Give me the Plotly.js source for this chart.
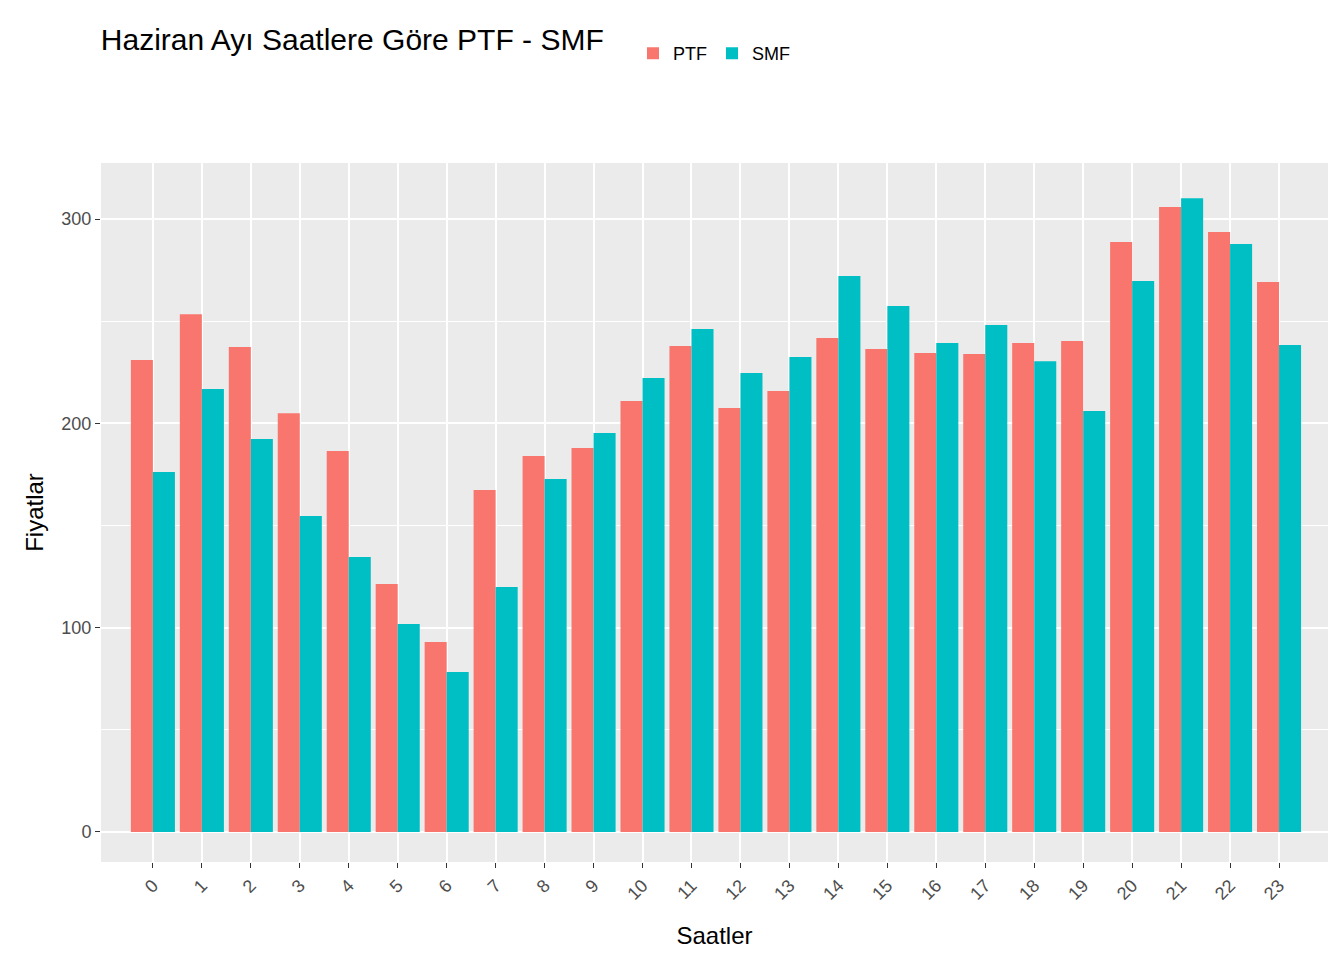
<!DOCTYPE html>
<html>
<head>
<meta charset="utf-8">
<script src="https://cdn.plot.ly/plotly-3.0.1.min.js"></script>
<style>body{margin:0}#chart{width:1344px;height:960px}</style>
</head>
<body>
<div id="chart"></div>
<script>
// data
const hours = [0,1,2,3,4,5,6,7,8,9,10,11,12,13,14,15,16,17,18,19,20,21,22,23];
const ptf = [231,253.5,237.4,205,186.5,121.4,93,167.4,184,188,211,237.9,207.5,215.9,241.8,236.4,234.5,234,239.4,240.3,288.8,305.9,293.7,269.2];
const smf = [176.2,216.8,192.4,154.7,134.6,101.8,78.3,119.9,172.8,195.3,222.2,246.2,224.7,232.5,272.2,257.5,239.4,248.2,230.5,206.1,269.7,310.3,287.8,238.4];

const font = "Liberation Sans, Arial, sans-serif";

const traces = [
	{ x: hours, y: ptf, name: "PTF", type: "bar", marker: { color: "#F8766D" } },
	{ x: hours, y: smf, name: "SMF", type: "bar", marker: { color: "#00BFC4" } },
];

const layout = {
	width: 1344,
	height: 960,
	margin: { l: 101, r: 16, t: 163, b: 98 },
	paper_bgcolor: "white",
	plot_bgcolor: "#EBEBEB",
	font: { family: font, size: 18, color: "#4D4D4D" },
	title: { text: "Haziran Ayı Saatlere Göre PTF - SMF", x: 0.075, xanchor: "left", y: 0.97, font: { size: 30, color: "black" } },
	barmode: "group",
	bargap: 0.1,
	bargroupgap: 0,
	showlegend: true,
	legend: { orientation: "h", x: 0.5, xanchor: "center", y: 1.13, yanchor: "bottom", font: { size: 18, color: "black" } },
	xaxis: {
		range: [-1.06, 24.0],
		tickmode: "array",
		tickvals: hours,
		ticktext: hours.map(String),
		tickangle: -45,
		ticks: "outside",
		ticklen: 5,
		tickcolor: "#333",
		showgrid: true,
		gridcolor: "white",
		gridwidth: 2,
		zeroline: false,
		title: { text: "Saatler", font: { size: 24, color: "black" } },
	},
	yaxis: {
		range: [-14.7, 327.5],
		tickvals: [0, 100, 200, 300],
		ticks: "outside",
		ticklen: 5,
		tickcolor: "#333",
		gridcolor: "white",
		gridwidth: 2,
		zeroline: false,
		minor: { tickvals: [50, 150, 250], showgrid: true, gridcolor: "white", gridwidth: 1 },
		title: { text: "Fiyatlar", font: { size: 24, color: "black" } },
	},
};

Plotly.newPlot("chart", traces, layout, { displayModeBar: false });
</script>
</body>
</html>
